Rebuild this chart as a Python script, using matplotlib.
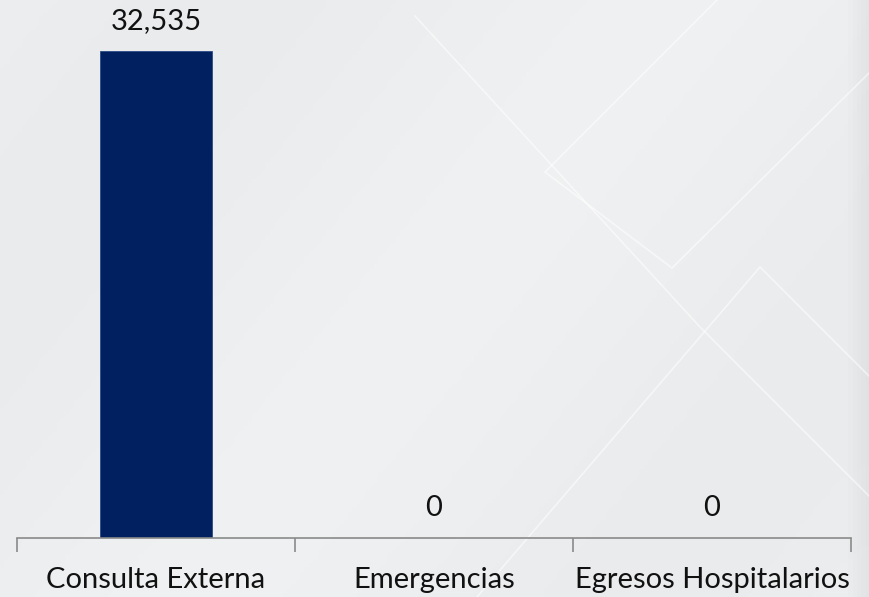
import matplotlib
matplotlib.use("Agg")
import matplotlib.pyplot as plt
import numpy as np
from matplotlib.lines import Line2D

categories = ["Consulta Externa", "Emergencias", "Egresos Hospitalarios"]
values = [32535, 0, 0]
value_labels = ["32,535", "0", "0"]

W, H = 870, 597
fig = plt.figure(figsize=(W / 100, H / 100), dpi=100)
fig.patch.set_facecolor("#edeef0")

# background gradient + decorative lines (figure pixel coords, y from top)
bg = fig.add_axes([0, 0, 1, 1], zorder=0)
bg.set_xlim(0, W)
bg.set_ylim(H, 0)
bg.axis("off")
xx, yy = np.meshgrid(np.linspace(0, 1, 200), np.linspace(0, 1, 140))
d = (xx * W + yy * H * 0.8) / (W + H * 0.8)
g = 0.935 - 0.010 * np.sin(d * np.pi * 3.0)
edge = np.clip((xx * W - 848) / 22, 0, 1)
g = g - 0.04 * edge
img = np.dstack([g - 0.006, g - 0.002, g + 0.004])
bg.imshow(np.clip(img, 0, 1), extent=[0, W, H, 0], aspect="auto", zorder=0)
deco = [
    [(415, 16), (700, 327), (870, 497)],
    [(717, 0), (545, 172), (672, 268), (870, 72)],
    [(477, 597), (760, 267), (870, 377)],
]
for seg in deco:
    xs, ys = zip(*seg)
    bg.add_line(Line2D(xs, ys, color="white", lw=1.2, alpha=0.55, zorder=1))

left = 17 / W
right = 851 / W
bottom = (H - 538) / H
top_px = 13
ax = fig.add_axes([left, bottom, right - left, (538 - top_px) / H], zorder=2)
ax.patch.set_alpha(0)

x = np.arange(len(categories))
bars = ax.bar(x, values, width=0.406, color="#002060", edgecolor="#2a4a86", linewidth=0.6)
ymax = 32535 * (538 - top_px) / (538 - 51)
ax.set_xlim(-0.5, len(categories) - 0.5)
ax.set_ylim(0, ymax)

for xi, v, lab in zip(x, values, value_labels):
    ax.annotate(lab, (xi, v), xytext=(0, 12.5), textcoords="offset points",
                ha="center", va="bottom", fontsize=21, family="Lato", color="#111111")

for s in ["top", "right", "left"]:
    ax.spines[s].set_visible(False)
ax.spines["bottom"].set_color("#8a8a8a")
ax.spines["bottom"].set_linewidth(1.2)
ax.set_yticks([])
ax.set_xticks(x)
ax.set_xticklabels(categories, fontsize=21, family="Lato", color="#111111")
ax.tick_params(axis="x", which="major", length=0, pad=21)
ax.set_xticks(np.arange(-0.5, len(categories)), minor=True)
ax.tick_params(axis="x", which="minor", length=10, width=1.2, color="#8a8a8a")

fig.savefig("out.png", dpi=100, facecolor=fig.get_facecolor())
